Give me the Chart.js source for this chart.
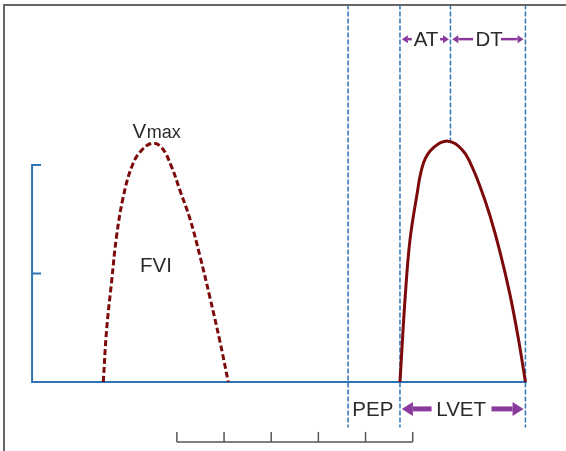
<!DOCTYPE html>
<html>
<head>
<meta charset="utf-8">
<script src="https://cdn.jsdelivr.net/npm/chart.js@4/dist/chart.umd.min.js"></script>
<style>
  body { margin: 0; background: #fff; }
  canvas { display: block; }
</style>
</head>
<body>
<canvas id="doppler" width="566" height="451"></canvas>
<script>
// x = time (ms), y = velocity (cm/s)
const fviX = [219, 226, 237, 247, 261, 279, 297, 322, 343, 364, 382, 403, 424, 445, 466, 484];
const fviY = [0, 24, 47, 67, 85, 99, 106, 110, 108, 99, 88, 75, 58, 39, 19, 0];

const ejectX = [848, 859, 869, 883, 898, 919, 950, 980, 997, 1018, 1039, 1060, 1081, 1099, 1114];
const ejectY = [0, 39, 65, 85, 101, 108, 111, 107, 101, 90, 76.5, 60, 40.5, 20, 0];

// timing markers (dashed verticals)
const markerX = [738, 848, 955, 1114];
const markerTop = [174, 174, 174, 174];
const markerBottom = [-21, -21, 111, -21];

// axes
const axisStart = 68;
const axisEnd = 1117;
const velTicks = [50, 100];
const tickLen = 19;

// time scale bar
const barTicks = [375, 475, 575, 675, 775, 875];
const barY = -27.6;
const barTickY = -23;

// text labels
const labelText = ['V', 'max', 'FVI', 'PEP', 'LVET', 'AT', 'DT'];
const labelX = [281, 311, 297, 747, 925, 877, 1008];
const labelY = [112.6, 112.6, 50.8, -15.5, -15.9, 155, 155];
const labelSize = [20.5, 18, 20.5, 20.5, 20.5, 20.5, 20.5];

// interval arrows: tail -> tip
const arrowTail = [873, 933, 1003, 1062, 915, 1042];
const arrowTip = [852, 952, 959, 1110, 852, 1110];
const arrowY = [158, 158, 158, 158, -12.4, -12.4];
const arrowBig = [false, false, false, false, true, true];

const blue = '#2e75b6';
const red = '#7d0a0a';
const purple = '#8a3a9c';

const toPts = (xs, ys) => xs.map((x, i) => ({ x: x, y: ys[i] }));

let datasets = [];

datasets.push({
  data: toPts(fviX, fviY),
  borderColor: red,
  borderWidth: 3,
  borderDash: [6, 3],
  tension: 0.4
});
datasets.push({
  data: toPts(ejectX, ejectY),
  borderColor: red,
  borderWidth: 3,
  tension: 0.4
});

markerX.forEach((x, i) => {
  datasets.push({
    data: [{ x: x, y: markerTop[i] }, { x: x, y: markerBottom[i] }],
    borderColor: blue,
    borderWidth: 1.5,
    borderDash: [5, 2]
  });
});

// velocity axis with inward ticks, then baseline
datasets.push({
  data: [{ x: axisStart + tickLen, y: velTicks[1] }, { x: axisStart, y: velTicks[1] }, { x: axisStart, y: 0 }, { x: axisEnd, y: 0 }],
  borderColor: blue,
  borderWidth: 2
});
datasets.push({
  data: [{ x: axisStart, y: velTicks[0] }, { x: axisStart + tickLen, y: velTicks[0] }],
  borderColor: blue,
  borderWidth: 2
});

// scale bar
datasets.push({
  data: [{ x: barTicks[0], y: barY }, { x: barTicks[barTicks.length - 1], y: barY }],
  borderColor: '#555',
  borderWidth: 1.5
});
barTicks.forEach((t) => {
  datasets.push({
    data: [{ x: t, y: barY }, { x: t, y: barTickY }],
    borderColor: '#555',
    borderWidth: 1.5
  });
});

datasets.forEach((d) => {
  d.showLine = true;
  d.pointRadius = 0;
  d.fill = false;
});

const overlay = {
  id: 'overlay',
  afterDatasetsDraw(chart) {
    const ctx = chart.ctx;
    const xs = chart.scales.x;
    const ys = chart.scales.y;
    const area = chart.chartArea;
    ctx.save();

    // frame
    ctx.strokeStyle = '#666';
    ctx.lineWidth = 2;
    ctx.beginPath();
    ctx.moveTo(area.left + 4, area.bottom);
    ctx.lineTo(area.left + 4, area.top + 5);
    ctx.lineTo(area.right, area.top + 5);
    ctx.stroke();

    // labels
    ctx.fillStyle = '#2b2b2b';
    ctx.textAlign = 'left';
    ctx.textBaseline = 'alphabetic';
    labelText.forEach((t, i) => {
      ctx.font = labelSize[i] + 'px "Liberation Sans", Arial, sans-serif';
      ctx.fillText(t, xs.getPixelForValue(labelX[i]), ys.getPixelForValue(labelY[i]));
    });

    // arrows
    ctx.fillStyle = purple;
    ctx.strokeStyle = purple;
    arrowTail.forEach((tail, i) => {
      const x0 = xs.getPixelForValue(tail);
      const x1 = xs.getPixelForValue(arrowTip[i]);
      const y = ys.getPixelForValue(arrowY[i]);
      const dir = x1 > x0 ? 1 : -1;
      const headLen = arrowBig[i] ? 11 : 6;
      const headHalf = arrowBig[i] ? 7 : 4;
      ctx.lineWidth = arrowBig[i] ? 5 : 2.5;
      ctx.beginPath();
      ctx.moveTo(x0, y);
      ctx.lineTo(x1 - dir * headLen, y);
      ctx.stroke();
      ctx.beginPath();
      ctx.moveTo(x1, y);
      ctx.lineTo(x1 - dir * headLen, y - headHalf);
      ctx.lineTo(x1 - dir * headLen, y + headHalf);
      ctx.closePath();
      ctx.fill();
    });
    ctx.restore();
  }
};

new Chart(document.getElementById('doppler'), {
  type: 'scatter',
  data: { datasets: datasets },
  options: {
    responsive: false,
    animation: false,
    layout: { padding: 0 },
    plugins: {
      legend: { display: false },
      tooltip: { enabled: false }
    },
    scales: {
      x: { type: 'linear', min: 0, max: 1200, display: false },
      y: { type: 'linear', min: -31.8, max: 176.04, display: false }
    }
  },
  plugins: [overlay]
});
</script>
</body>
</html>
